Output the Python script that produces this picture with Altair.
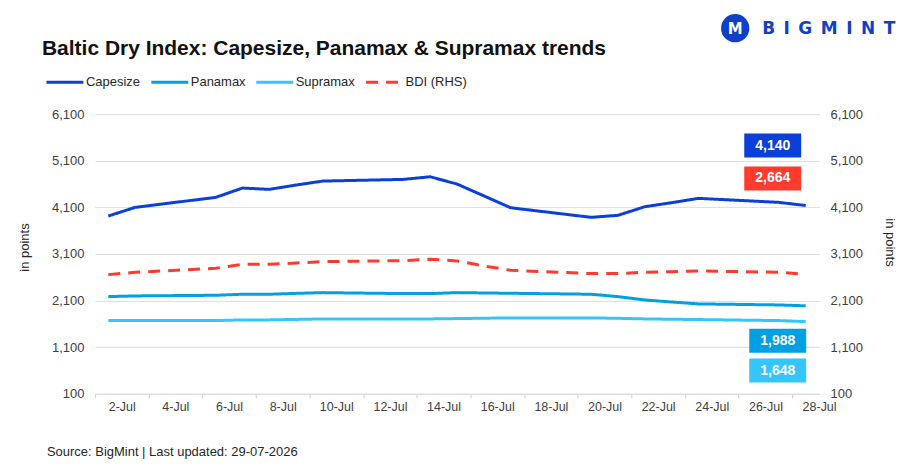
import altair as alt
import pandas as pd

# ---------------- data ----------------
days = [2, 3, 6, 7, 8, 9, 10, 13, 14, 15, 16, 17, 20, 21, 22, 23, 24, 27, 28]
capesize = [3914, 4100, 4314, 4514, 4486, 4579, 4664, 4700, 4757, 4600, 4347, 4092,
            3886, 3929, 4114, 4200, 4293, 4207, 4140]
panamax = [2185, 2200, 2214, 2236, 2236, 2255, 2271, 2250, 2250, 2271, 2264, 2257,
           2236, 2185, 2114, 2070, 2029, 2007, 1988]
supramax = [1671, 1671, 1671, 1686, 1686, 1696, 1707, 1707, 1707, 1714, 1722, 1729,
            1729, 1720, 1707, 1700, 1693, 1671, 1648]
bdi = [2657, 2707, 2793, 2879, 2879, 2907, 2936, 2957, 2986, 2950, 2843, 2750,
       2679, 2679, 2707, 2721, 2736, 2707, 2664]
names = ["Capesize", "Panamax", "Supramax", "BDI (RHS)"]
y_ticks = [100, 1100, 2100, 3100, 4100, 5100, 6100]

title_text = "Baltic Dry Index: Capesize, Panamax & Supramax trends"
source_text = "Source: BigMint | Last updated: 29-07-2026"

# ---------------- styles ----------------
colors = ["#0b3fd9", "#00a0e3", "#35c5fb", "#ff3b30"]
dashes = [[1, 0], [1, 0], [1, 0], [12, 8]]
FONT = "Liberation Sans"
W, H = 725, 280
day_w = W / 27.0

rows = []
for name, vals in zip(names, [capesize, panamax, supramax, bdi]):
    for d, v in zip(days, vals):
        rows.append({"day": d, "series": name, "value": v})
df = pd.DataFrame(rows)

xscale = alt.Scale(domain=[1.5, 28.5], nice=False, zero=False)
yscale = alt.Scale(domain=[100, 6100], nice=False, zero=False)

xaxis = alt.Axis(values=[1.5 + 2 * i for i in range(14)],
                 labelExpr="floor(datum.value + 1) + '-Jul'",
                 labelOffset=day_w, grid=False, title=None,
                 tickSize=4, tickColor="#d0d0d0", domainColor="#d9d9d9",
                 labelPadding=3, labelFontSize=12.5, labelColor="#404040",
                 labelFont=FONT, labelOverlap=False, labelFlush=False)

def yaxis(orient, tx, ty):
    return alt.Axis(orient=orient, values=y_ticks, format=",.0f", title="in points",
                    grid=True, gridColor="#e0e0e0", domain=False, ticks=False,
                    labelPadding=11, labelFontSize=13, labelColor="#404040",
                    labelFont=FONT, titleFont=FONT, titleFontSize=13,
                    titleFontWeight="normal", titleColor="#262626",
                    titleX=tx, titleY=ty, titleAlign="center",
                    titleBaseline="middle")

color = alt.Color("series:N", scale=alt.Scale(domain=names, range=colors),
                  legend=alt.Legend(orient="none", legendX=-50, legendY=-52,
                                    direction="horizontal", title=None, padding=0,
                                    symbolType="stroke", symbolSize=1369,
                                    symbolStrokeWidth=3, labelFont=FONT,
                                    labelFontSize=13, labelColor="#262626",
                                    columnPadding=4, labelOffset=1))
dash = alt.StrokeDash("series:N", scale=alt.Scale(domain=names, range=dashes),
                      legend=alt.Legend(title=None))

base = alt.Chart(df)

lines = base.transform_filter(alt.datum.series != "BDI (RHS)").mark_line(
    strokeWidth=3, strokeJoin="round").encode(
    x=alt.X("day:Q", scale=xscale, axis=xaxis),
    y=alt.Y("value:Q", scale=yscale, axis=yaxis("left", -70, 133)),
    color=color, strokeDash=dash)

box_specs = {"Capesize": (-33, -60), "BDI (RHS)": (-33, -96),
             "Panamax": (-28, 35), "Supramax": (-28, 49)}
boxes = []
for name, col in zip(names, colors):
    dx, dy = box_specs[name]
    b = base.transform_filter(
        (alt.datum.series == name) & (alt.datum.day == days[-1]))
    boxes.append(b.mark_rect(width=57, height=24, xOffset=dx, yOffset=dy,
                             color=col).encode(
        x=alt.X("day:Q", scale=xscale), y=alt.Y("value:Q", scale=yscale)))
    boxes.append(b.mark_text(xOffset=dx, yOffset=dy, color="white", font=FONT,
                             fontSize=14, fontWeight="bold", align="center",
                             baseline="middle").encode(
        x=alt.X("day:Q", scale=xscale), y=alt.Y("value:Q", scale=yscale),
        text=alt.Text("value:Q", format=",")))

left = alt.layer(lines, *boxes)

bdi_line = base.transform_filter(alt.datum.series == "BDI (RHS)").mark_line(
    strokeWidth=3, strokeCap="butt").encode(
    x=alt.X("day:Q", scale=xscale, axis=xaxis),
    y=alt.Y("value:Q", scale=yscale, axis=yaxis("right", 70, 128)),
    color=color, strokeDash=dash)

one = alt.Data(values=[{}])
title = alt.Chart(one).mark_text(text=title_text, font=FONT, fontSize=21,
                                 fontWeight="bold", align="left",
                                 baseline="alphabetic", color="#111111").encode(
    x=alt.value(-53), y=alt.value(-59))
source = alt.Chart(one).mark_text(text=source_text, font=FONT, fontSize=13,
                                  align="left", baseline="alphabetic",
                                  color="#262626").encode(
    x=alt.value(-48), y=alt.value(342))
logo_c = alt.Chart(one).mark_point(shape="circle", size=800, filled=True,
                                   opacity=1, color="#1040c8").encode(
    x=alt.value(641), y=alt.value(-86))
logo_m = alt.Chart(one).mark_text(text="M", font="DejaVu Sans", fontSize=15,
                                  fontWeight="bold", color="white",
                                  align="center", baseline="middle").encode(
    x=alt.value(641), y=alt.value(-85))
logo_t = alt.Chart(one).mark_text(text="B\u2002I\u2002G\u2002M\u2002I\u2002N\u2002T",
                                  font="DejaVu Sans", fontSize=17,
                                  fontWeight="bold", color="#1040c8",
                                  align="left", baseline="middle").encode(
    x=alt.value(668), y=alt.value(-85))

chart = alt.layer(left, bdi_line, title, source, logo_c, logo_m, logo_t).resolve_scale(
    y="independent").properties(
    width=W, height=H,
    autosize=alt.AutoSizeParams(type="none"),
    padding={"left": 87, "top": 106, "right": 84, "bottom": 65},
    background="white").configure_view(stroke=None)

chart.save("out.html", embed_options={"renderer": "svg", "actions": False})
